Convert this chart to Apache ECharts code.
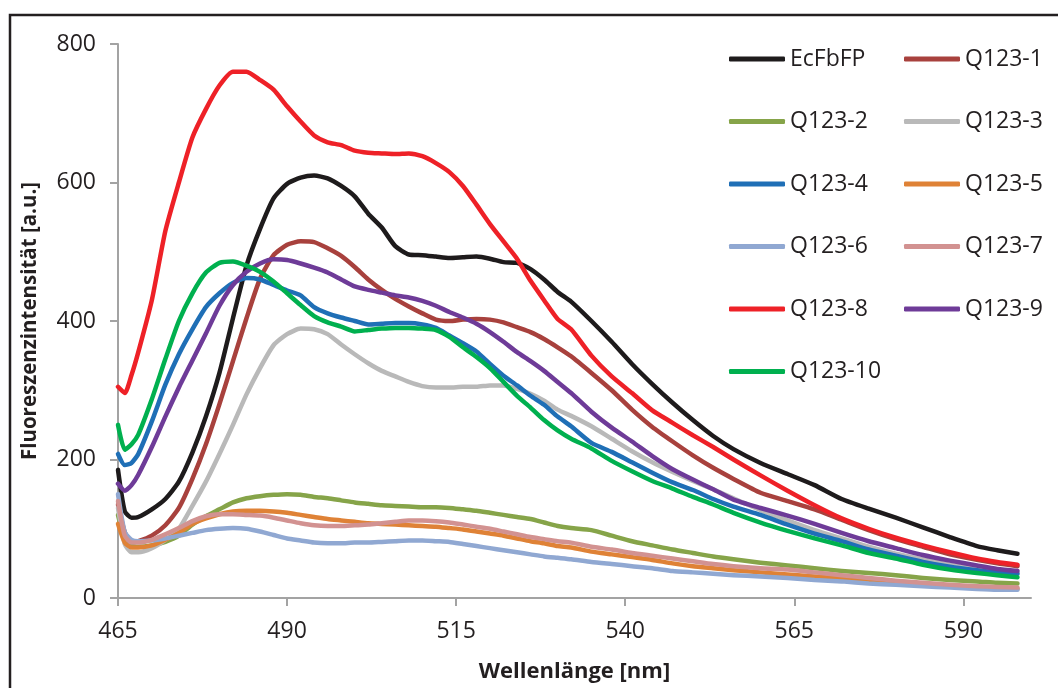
<!DOCTYPE html>
<html>
<head>
<meta charset="utf-8">
<script src="https://cdn.jsdelivr.net/npm/echarts@6/dist/echarts.min.js"></script>
<style>
  html, body { margin: 0; padding: 0; background: #fff; }
  #chart { width: 1058px; height: 688px; }
</style>
</head>
<body>
<div id="chart"></div>
<script>
// Wavelength sampling points [nm]
const wavelength = [465,466,467,468,470,472,474,476,478,480,482,484,486,488,490,492,494,496,498,500,502,504,506,508,510,512,514,516,518,520,522,524,526,528,530,532,535,538,541,544,547,550,553,556,560,564,568,572,576,580,584,588,592,595,598];

// Emission intensities [a.u.] per sample, one array per construct
const EcFbFP  = [185,125,116,117,128,143,168,210,262,325,404,480,533,577,598,607,610,606,595,580,555,535,508,496,495,493,491,492,493,490,485,484,475,460,442,428,400,370,338,309,282,257,234,215,195,179,163,143,129,116,102,88,75,69,64];
const Q123_1  = [135,95,80,82,90,105,130,172,222,280,342,404,461,495,510,515,514,505,494,478,460,445,432,421,411,402,400,402,403,402,398,391,384,374,362,349,325,300,272,247,226,206,188,172,152,140,128,113,98,85,74,63,55,50,46];
const Q123_2  = [120,85,75,74,76,81,90,106,118,128,138,144,147,149,150,149,146,144,141,138,136,134,133,132,131,131,130,128,126,123,120,117,114,109,104,101,98,90,82,76,70,65,60,56,51,47,43,39,36,33,29,26,24,22,21];
const Q123_3  = [130,78,66,66,72,84,100,133,168,208,250,294,332,365,381,389,388,381,366,352,339,328,320,312,306,304,304,305,305,307,307,302,295,285,272,263,248,230,212,196,182,169,157,144,127,112,98,86,74,64,56,48,42,38,36];
const Q123_4  = [208,192,195,208,255,308,352,388,420,440,455,462,460,452,444,437,420,411,405,400,395,396,397,397,395,390,379,368,356,338,321,307,292,279,262,248,224,211,196,181,167,156,143,132,120,106,93,82,70,61,52,45,40,37,35];
const Q123_5  = [107,80,73,73,76,84,94,107,115,121,125,126,126,125,123,120,117,114,112,110,108,107,106,105,104,103,101,99,96,93,90,86,82,79,75,73,67,63,59,55,50,46,43,40,37,34,31,28,25,22,19,17,15,14,13];
const Q123_6  = [150,95,84,82,83,86,90,94,98,100,101,100,96,91,86,83,80,79,79,80,80,81,82,83,83,82,81,78,75,72,69,66,63,60,58,56,52,49,46,43,39,37,35,33,31,29,26,24,21,19,17,15,13,12,12];
const Q123_7  = [140,90,80,80,84,92,101,111,118,121,121,120,119,116,112,108,105,104,104,105,106,108,110,112,112,111,109,106,103,100,96,92,88,85,82,80,74,70,65,61,57,53,49,46,43,41,37,33,29,25,22,19,17,16,15];
const Q123_8  = [305,296,322,355,430,530,600,665,706,740,760,760,748,734,710,688,668,658,654,646,643,642,641,642,638,628,615,595,568,540,515,490,458,430,403,388,350,320,296,271,253,235,218,200,177,155,134,115,100,87,76,66,57,52,48];
const Q123_9  = [165,155,163,178,218,262,304,343,382,422,452,471,483,489,488,483,477,470,460,450,445,441,437,434,429,422,413,405,396,384,370,355,342,328,312,296,269,246,226,205,186,171,157,142,130,119,107,94,82,72,62,54,47,42,39];
const Q123_10 = [250,214,222,236,287,345,400,440,470,484,486,480,471,457,440,423,407,398,392,385,387,389,390,390,389,387,377,362,348,332,312,292,275,257,242,230,216,198,183,169,158,146,135,123,109,97,86,76,65,57,48,41,36,33,30];

// Axis ticks
const xTicks = [465,490,515,540,565,590];
const yTicks = [0,200,400,600,800];

const seriesDefs = [
  { name: 'EcFbFP',  values: EcFbFP,  color: '#1e1b1c' },
  { name: 'Q123-1',  values: Q123_1,  color: '#a8413d' },
  { name: 'Q123-2',  values: Q123_2,  color: '#86a449' },
  { name: 'Q123-3',  values: Q123_3,  color: '#b9b9b9' },
  { name: 'Q123-4',  values: Q123_4,  color: '#1f6fb6' },
  { name: 'Q123-5',  values: Q123_5,  color: '#df8236' },
  { name: 'Q123-6',  values: Q123_6,  color: '#90a8d2' },
  { name: 'Q123-7',  values: Q123_7,  color: '#d29291' },
  { name: 'Q123-8',  values: Q123_8,  color: '#ee2127' },
  { name: 'Q123-9',  values: Q123_9,  color: '#6e3b98' },
  { name: 'Q123-10', values: Q123_10, color: '#00b04f' }
];

const FONT = '"Open Sans", "DejaVu Sans", sans-serif';
const axisGray = '#a3a3a3';

const legendCommon = {
  orient: 'vertical',
  selectedMode: false,
  padding: 0,
  icon: 'roundRect',
  itemWidth: 56,
  itemHeight: 5,
  itemGap: 36.5,
  textStyle: { fontFamily: FONT, fontSize: 23, color: '#231f20', lineHeight: 26 }
};

const chart = echarts.init(document.getElementById('chart'), null, { renderer: 'canvas' });
chart.setOption({
  animation: false,
  backgroundColor: '#fff',
  graphic: [{
    type: 'rect',
    shape: { x: 10, y: 15, width: 1070, height: 700 },
    style: { fill: 'none', stroke: '#231f20', lineWidth: 2.5 },
    silent: true, z: 0
  }],
  grid: { left: 118, right: 27, top: 44, bottom: 87, containLabel: false },
  legend: [
    Object.assign({ left: 729, top: 46, data: ['EcFbFP','Q123-2','Q123-4','Q123-6','Q123-8','Q123-10'] }, legendCommon),
    Object.assign({ left: 904, top: 46, data: ['Q123-1','Q123-3','Q123-5','Q123-7','Q123-9'] }, legendCommon)
  ],
  xAxis: {
    type: 'value',
    min: 465, max: 600, interval: 25,
    name: 'Wellenlänge [nm]',
    nameLocation: 'middle',
    nameGap: 63,
    nameTextStyle: { fontFamily: FONT, fontSize: 22, fontWeight: 'bold', color: '#231f20' },
    axisLine: { show: true, lineStyle: { color: axisGray, width: 2 } },
    axisTick: { show: true, length: 8, customValues: xTicks, lineStyle: { color: axisGray, width: 2 } },
    axisLabel: { customValues: xTicks, margin: 22, fontFamily: FONT, fontSize: 23, color: '#231f20' },
    splitLine: { show: false }
  },
  yAxis: {
    type: 'value',
    min: 0, max: 800, interval: 200,
    name: 'Fluoreszenzintensität [a.u.]',
    nameLocation: 'middle',
    nameGap: 77,
    nameTextStyle: { fontFamily: FONT, fontSize: 20.5, fontWeight: 'bold', color: '#231f20' },
    axisLine: { show: true, lineStyle: { color: axisGray, width: 2 } },
    axisTick: { show: true, length: 8, customValues: yTicks, lineStyle: { color: axisGray, width: 2 } },
    axisLabel: { customValues: yTicks, margin: 22, fontFamily: FONT, fontSize: 23, color: '#231f20' },
    splitLine: { show: false }
  },
  series: seriesDefs.map(s => ({
    name: s.name,
    type: 'line',
    data: wavelength.map((w, i) => [w, s.values[i]]),
    showSymbol: false,
    symbol: 'none',
    smooth: 0.2,
    color: s.color,
    lineStyle: { color: s.color, width: 4.5, cap: 'round', join: 'round' },
    emphasis: { disabled: true }
  }))
});
</script>
</body>
</html>
